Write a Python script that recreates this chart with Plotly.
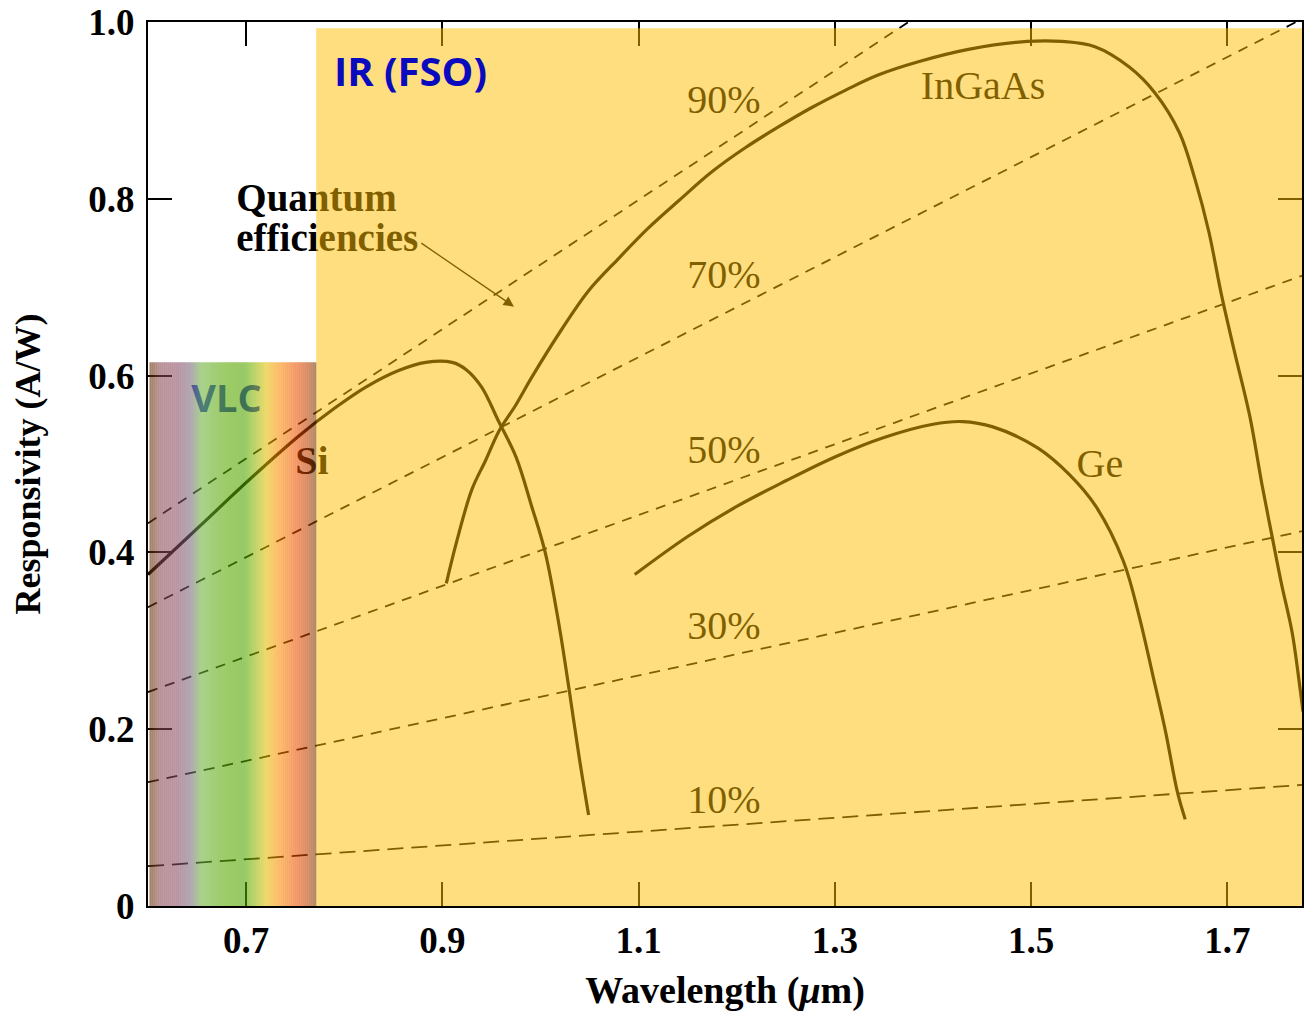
import plotly.graph_objects as go

# ---------------- data ----------------
si_wl = [0.600, 0.653, 0.703, 0.754, 0.790, 0.822, 0.856, 0.883, 0.910, 0.924, 0.940,
         0.957, 0.975, 0.991, 1.005, 1.019, 1.029, 1.039, 1.049]
si_r = [0.375, 0.430, 0.482, 0.532, 0.563, 0.587, 0.606, 0.615, 0.615, 0.607, 0.587,
        0.549, 0.508, 0.452, 0.399, 0.317, 0.246, 0.171, 0.103]

ingaas_wl = [0.904, 0.914, 0.930, 0.944, 0.958, 0.975, 0.991, 1.022, 1.049, 1.080, 1.110,
             1.141, 1.174, 1.209, 1.242, 1.276, 1.311, 1.344, 1.385, 1.436, 1.496, 1.531,
             1.565, 1.600, 1.626, 1.651, 1.667, 1.681, 1.694, 1.707, 1.723, 1.735,
             1.745, 1.755, 1.766, 1.774, 1.777]
ingaas_r = [0.365, 0.410, 0.471, 0.504, 0.538, 0.567, 0.598, 0.653, 0.696, 0.733, 0.767,
            0.798, 0.830, 0.858, 0.881, 0.903, 0.923, 0.940, 0.955, 0.969, 0.978, 0.978,
            0.972, 0.949, 0.920, 0.875, 0.822, 0.763, 0.691, 0.628, 0.553, 0.478,
            0.421, 0.365, 0.309, 0.246, 0.220]

ge_wl = [1.096, 1.150, 1.200, 1.250, 1.300, 1.350, 1.400, 1.430, 1.461, 1.507,
         1.539, 1.566, 1.594, 1.610, 1.624, 1.637, 1.649, 1.657]
ge_r = [0.375, 0.418, 0.452, 0.481, 0.508, 0.530, 0.545, 0.548, 0.542, 0.518,
        0.488, 0.452, 0.390, 0.328, 0.261, 0.197, 0.129, 0.098]

# quantum-efficiency lines: end points
qe_names = ["10%", "30%", "50%", "70%", "90%"]
qe_wl_start = [0.600, 0.600, 0.600, 0.600, 0.600]
qe_r_start = [0.045, 0.140, 0.242, 0.338, 0.433]
qe_wl_end = [1.776, 1.776, 1.776, 1.770, 1.375]
qe_r_end = [0.137, 0.424, 0.713, 1.000, 1.000]
qe_label_wl = [1.187, 1.187, 1.187, 1.187, 1.187]
qe_label_r = [0.117, 0.313, 0.513, 0.710, 0.908]
qe_dash = ["16px,8px", "11px,8px", "10px,8px", "10px,8px", "10px,8px"]

x_ticks = [0.7, 0.9, 1.1, 1.3, 1.5, 1.7]
x_ticktext = ["0.7", "0.9", "1.1", "1.3", "1.5", "1.7"]
y_ticks = [0, 0.2, 0.4, 0.6, 0.8, 1.0]
y_ticktext = ["0", "0.2", "0.4", "0.6", "0.8", "1.0"]

# bands
ir_band = [0.7714, 1.776, 0.0, 0.993]      # x0, x1, y0, y1
vlc_band = [0.6015, 0.7714, 0.0, 0.615]

SERIF = "Liberation Serif"
fig = go.Figure()

for i, name in enumerate(qe_names):
    fig.add_trace(go.Scatter(
        x=[qe_wl_start[i], qe_wl_end[i]], y=[qe_r_start[i], qe_r_end[i]],
        mode="lines", line=dict(color="black", width=1.8, dash=qe_dash[i]),
        hoverinfo="skip", showlegend=False))

for wl, r in [(si_wl, si_r), (ingaas_wl, ingaas_r), (ge_wl, ge_r)]:
    fig.add_trace(go.Scatter(x=wl, y=r, mode="lines",
                             line=dict(color="black", width=3.2, shape="spline", smoothing=1.0),
                             hoverinfo="skip", showlegend=False))

# labels (under the translucent overlays, like the original)
fig.add_trace(go.Scatter(
    x=qe_label_wl, y=qe_label_r, text=qe_names, mode="text",
    textfont=dict(family=SERIF, size=40, color="black"),
    hoverinfo="skip", showlegend=False))
fig.add_trace(go.Scatter(
    x=[1.451, 1.570, 0.767], y=[0.924, 0.497, 0.500], text=["InGaAs", "Ge", "<b>Si</b>"],
    mode="text", textfont=dict(family=SERIF, size=40, color="black"),
    hoverinfo="skip", showlegend=False))
fig.add_trace(go.Scatter(
    x=[0.690, 0.690], y=[0.797, 0.752], text=["<b>Quantum</b>", "<b>efficiencies</b>"],
    mode="text", textposition="middle right",
    textfont=dict(family=SERIF, size=39, color="black"),
    hoverinfo="skip", showlegend=False))
fig.add_trace(go.Scatter(
    x=[0.680], y=[0.570], text=["<b>VLC</b>"], mode="text",
    textfont=dict(family="Open Sans", size=38, color="#1a2ad0"),
    hoverinfo="skip", showlegend=False))

shapes = []
# IR overlay
shapes.append(dict(type="rect", xref="x", yref="y", x0=ir_band[0], x1=ir_band[1],
                   y0=ir_band[2], y1=ir_band[3], fillcolor="rgb(255,190,0)",
                   opacity=0.5, line=dict(width=0), layer="above"))

# VLC rainbow overlay, as thin strips
seen = [(0.00, (160, 128, 96)), (0.06, (185, 145, 150)), (0.18, (185, 150, 165)),
        (0.25, (175, 168, 178)), (0.31, (170, 210, 140)), (0.45, (160, 205, 110)),
        (0.57, (150, 200, 80)), (0.63, (185, 212, 85)), (0.70, (238, 215, 90)),
        (0.78, (252, 185, 95)), (0.88, (245, 150, 80)), (0.95, (215, 140, 85)),
        (1.00, (170, 140, 95))]
alpha = 0.6


def col_at(f):
    for k in range(len(seen) - 1):
        f0, c0 = seen[k]
        f1, c1 = seen[k + 1]
        if f0 <= f <= f1:
            t = (f - f0) / (f1 - f0) if f1 > f0 else 0
            s = [c0[j] + (c1[j] - c0[j]) * t for j in range(3)]
            c = [max(0, min(255, (v - 255 * (1 - alpha)) / alpha)) for v in s]
            return "rgb(%d,%d,%d)" % tuple(int(round(v)) for v in c)
    return "rgb(0,0,0)"


n = 84
w = (vlc_band[1] - vlc_band[0]) / n
for k in range(n):
    f = (k + 0.5) / n
    shapes.append(dict(type="rect", xref="x", yref="y",
                       x0=vlc_band[0] + k * w, x1=vlc_band[0] + (k + 1) * w + w * 0.05,
                       y0=vlc_band[2], y1=vlc_band[3], fillcolor=col_at(f),
                       opacity=alpha, line=dict(width=0), layer="above"))

annotations = [
    dict(x=0.973, y=0.678, ax=0.877, ay=0.751, xref="x", yref="y", axref="x", ayref="y",
         text="", showarrow=True, arrowhead=2, arrowsize=1.6, arrowwidth=1.3,
         arrowcolor="#806000"),
    dict(x=0.787, y=0.945, xref="x", yref="y", text="<b>IR (FSO)</b>", showarrow=False,
         xanchor="left", yanchor="middle",
         font=dict(family="Open Sans", size=40, color="#0a0abe")),
]

axis_common = dict(showline=True, linecolor="black", linewidth=2, mirror="ticks",
                   ticks="inside", ticklen=24, tickwidth=1.6, tickcolor="black",
                   showgrid=False, zeroline=False, ticklabeloverflow="allow",
                   tickfont=dict(family=SERIF, size=37, color="black"))

fig.update_layout(
    width=1304, height=1012,
    margin=dict(l=148, r=0, t=22, b=100),
    paper_bgcolor="white", plot_bgcolor="white",
    shapes=shapes, annotations=annotations,
    hovermode=False,
    xaxis=dict(range=[0.6, 1.776], tickvals=x_ticks,
               ticktext=["<b>%s</b>" % t for t in x_ticktext],
               ticklabelstandoff=1,
               title=dict(text="<b>Wavelength (<i>μ</i>m)</b>", standoff=24,
                          font=dict(family=SERIF, size=38, color="black")),
               **axis_common),
    yaxis=dict(range=[0, 1.0], tickvals=y_ticks,
               ticktext=["<b>%s</b>" % t for t in y_ticktext],
               ticklabelstandoff=4,
               title=dict(text="<b>Responsivity (A/W)</b>", standoff=37,
                          font=dict(family=SERIF, size=36, color="black")),
               **axis_common),
)

fig.write_html("out.html", config={"displayModeBar": False},
               post_script="document.body.style.margin='0px';"
                           "document.body.style.overflow='hidden';")
